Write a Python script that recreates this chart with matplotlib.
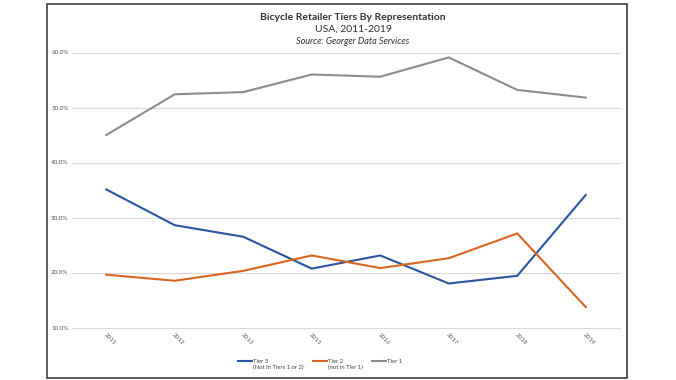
import matplotlib
matplotlib.use("Agg")
import matplotlib.pyplot as plt
from matplotlib.patches import Rectangle
from matplotlib.ticker import FuncFormatter

years = ["2011", "2012", "2013", "2015", "2016", "2017", "2018", "2019"]
tier3 = [35.1, 28.6, 26.5, 20.7, 23.1, 18.0, 19.4, 34.1]
tier2 = [19.6, 18.5, 20.3, 23.1, 20.8, 22.6, 27.1, 13.7]
tier1 = [45.0, 52.4, 52.8, 56.0, 55.6, 59.1, 53.2, 51.8]
series_labels = ["Tier 3", "Tier 2", "Tier 1"]
series_sublabels = ["(Not in Tiers 1 or 2)", "(not in Tier 1)", ""]
yticks = [10, 20, 30, 40, 50, 60]

plt.rcParams['font.family'] = ['Lato', 'DejaVu Sans']

fig = plt.figure(figsize=(6.76, 3.8), dpi=100)
ax = fig.add_axes([72/676, 1-327.5/380, 548/676, 275/380])

x = list(range(len(years)))
colors = ["#2B55A0", "#D9661F", "#8C8C8C"]
lines = []
for vals, c, lab in zip([tier3, tier2, tier1], colors, series_labels):
    ln, = ax.plot(x, vals, color=c, lw=1.5, label=lab, solid_joinstyle='miter')
    lines.append(ln)

ax.set_xlim(-0.5, len(years) - 0.5)
ax.set_ylim(10, 60)
ax.set_yticks(yticks)
ax.yaxis.set_major_formatter(FuncFormatter(lambda v, p: f"{v:.1f}%"))
ax.set_xticks(x)
ax.set_xticklabels(years, rotation=-45, ha='left', va='top', rotation_mode='anchor')
ax.grid(axis='y', color='#D9D9D9', lw=0.8)
for gl in ax.get_ygridlines():
    gl.set_clip_on(False)
ax.set_axisbelow(True)
for s in ax.spines.values():
    s.set_visible(False)
ax.tick_params(axis='both', length=0, labelsize=4.5, labelcolor='#595959')
ax.tick_params(axis='y', pad=2.5)
ax.tick_params(axis='x', pad=3.5)

fig.text(353/676, 1-17/380, "Bicycle Retailer Tiers By Representation", ha='center', va='center',
         fontsize=7.5, fontweight='bold', color='#333333')
fig.text(353/676, 1-29/380, "USA, 2011-2019", ha='center', va='center', fontsize=7.5, color='#333333')
fig.text(353/676, 1-41/380, "Source: Georger Data Services", ha='center', va='center', fontsize=6.5,
         style='italic', color='#333333')

labels_full = [a + ("\n" + b if b else "") for a, b in zip(series_labels, series_sublabels)]
leg = fig.legend(lines, labels_full, loc='center', bbox_to_anchor=(320/676, 1-365/380), ncol=3,
                 frameon=False, fontsize=4.2, handlelength=2.4, handletextpad=0.25, columnspacing=1.5,
                 labelcolor='#404040', borderpad=0, borderaxespad=0)
try:
    leg._legend_handle_box.align = "top"
    for col in leg._legend_handle_box.get_children():
        col.align = "left"
        for hp in col.get_children():
            hp.align = "top"
except Exception:
    pass

fig.patches.append(Rectangle((46.5/676, 1-377.5/380), (627-46.5)/676, (377.5-3.5)/380,
                             transform=fig.transFigure, fill=False, edgecolor='#404040', lw=1.2))

fig.savefig("out.png", dpi=100)
